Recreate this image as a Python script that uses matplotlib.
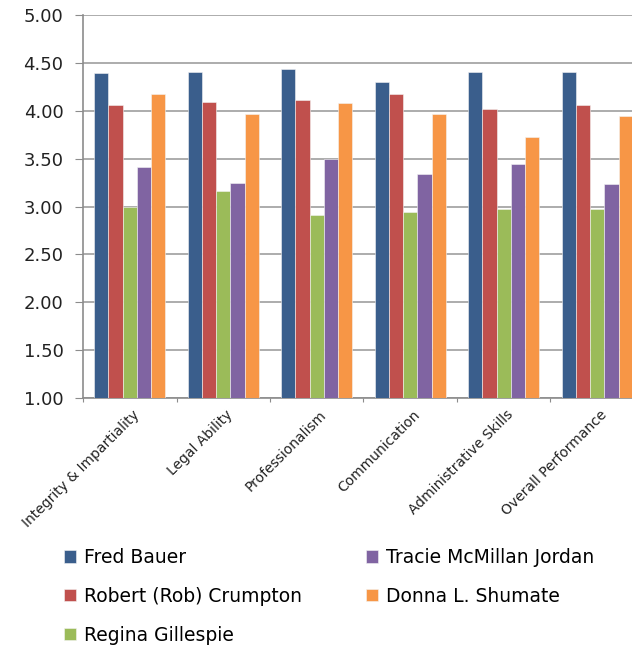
import numpy as np
import matplotlib.pyplot as plt

# Judicial evaluation scores by category
categories = ["Integrity & Impartiality", "Legal Ability", "Professionalism",
              "Communication", "Administrative Skills", "Overall Performance"]
fred_bauer = [4.39, 4.40, 4.44, 4.30, 4.40, 4.40]
rob_crumpton = [4.06, 4.09, 4.11, 4.18, 4.02, 4.06]
regina_gillespie = [3.00, 3.16, 2.91, 2.94, 2.97, 2.97]
tracie_jordan = [3.41, 3.25, 3.50, 3.34, 3.44, 3.23]
donna_shumate = [4.18, 3.97, 4.08, 3.97, 3.73, 3.94]

series = [
    ("Fred Bauer", fred_bauer, "#3A5E8C"),
    ("Robert (Rob) Crumpton", rob_crumpton, "#C0504D"),
    ("Regina Gillespie", regina_gillespie, "#9BBB59"),
    ("Tracie McMillan Jordan", tracie_jordan, "#8064A2"),
    ("Donna L. Shumate", donna_shumate, "#F79646"),
]

plt.rcParams["font.family"] = ["DejaVu Sans"]

fig = plt.figure(figsize=(6.32, 6.46), dpi=100)
ax = fig.add_axes([83 / 632, 1 - 398 / 646, 561 / 632, 383 / 646])

x = np.arange(len(categories))
bar_w = 0.152
for i, (name, vals, color) in enumerate(series):
    ax.bar(x + (i - 2) * bar_w, np.array(vals) - 1.0, bottom=1.0, width=bar_w,
           color=color, edgecolor="#f4f4f4", linewidth=0.4, label=name, zorder=3)

ax.set_xlim(-0.5, len(categories) - 0.5)
ax.set_ylim(1.0, 5.0)
yticks = np.arange(1.0, 5.01, 0.5)
ax.set_yticks(yticks)
ax.set_yticklabels([f"{v:.2f}" for v in yticks], fontsize=13, color="#222222")
ax.yaxis.grid(True, color="#a6a6a6", linewidth=1.3, zorder=0)
ax.set_axisbelow(True)

# category labels between boundary ticks
ax.set_xticks(np.arange(-0.5, len(categories), 1.0))
ax.set_xticklabels([])
ax.set_xticks(x + 0.03, minor=True)
ax.set_xticklabels(categories, minor=True, rotation=45, ha="right",
                   rotation_mode="anchor", fontsize=10, color="#222222")
ax.tick_params(axis="x", which="minor", length=0, pad=7)
ax.tick_params(axis="x", which="major", length=3, color="#8c8c8c")
ax.tick_params(axis="y", length=6, color="#8c8c8c", pad=8)

for side in ["top", "right"]:
    ax.spines[side].set_visible(False)
for side in ["left", "bottom"]:
    ax.spines[side].set_color("#8c8c8c")
    ax.spines[side].set_linewidth(1.2)

fig.legend(loc="upper left", bbox_to_anchor=(64 / 632, 1 - 548 / 646),
           ncol=2, frameon=False, fontsize=13.5, handlelength=0.64,
           handleheight=0.64, handletextpad=0.43, labelspacing=1.06,
           columnspacing=3.4, borderaxespad=0, borderpad=0)

plt.savefig("out.png", dpi=100)
plt.close()
